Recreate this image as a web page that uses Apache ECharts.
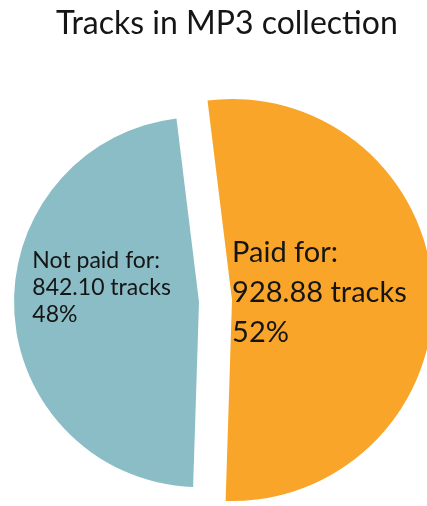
<!DOCTYPE html>
<html>
<head>
<meta charset="utf-8">
<script src="https://cdn.jsdelivr.net/npm/echarts@6/dist/echarts.min.js"></script>
<style>
  html, body { margin: 0; padding: 0; background: #ffffff; }
  #chart { width: 427px; height: 506px; }
</style>
</head>
<body>
<div id="chart"></div>
<script>
// Track counts by purchase status
const categories = ['Paid for', 'Not paid for'];
const tracks = [928.88, 842.10];
const sliceColors = ['#F9A52A', '#8BBDC6'];
const chartTitle = 'Tracks in MP3 collection';

// Each slice is drawn by its own pie series (the other slice kept invisible),
// so the two pieces can be pulled apart and sized independently.
function pieSeries(showIndex, center, radius, fontSize, lineHeight, shift) {
  return {
    type: 'pie',
    center: center,
    radius: radius,
    startAngle: 97,
    clockwise: true,
    silent: true,
    animation: false,
    labelLine: { show: false },
    data: categories.map((name, i) => ({
      name: name,
      value: tracks[i],
      itemStyle: { color: i === showIndex ? sliceColors[i] : 'rgba(0,0,0,0)', borderWidth: 0 },
      label: {
        show: i === showIndex,
        position: 'inside',
        formatter: p => p.name + ':\n' + p.value.toFixed(2) + ' tracks\n' + Math.round(p.percent) + '%',
        fontFamily: 'Lato',
        fontSize: fontSize,
        lineHeight: lineHeight,
        color: '#151515'
      }
    })),
    // left-align the label lines, nudged from the slice's default label spot
    labelLayout: p => ({
      x: p.labelRect.x + shift[0],
      y: p.labelRect.y + shift[1],
      align: 'left',
      verticalAlign: 'top'
    })
  };
}

const chart = echarts.init(document.getElementById('chart'), null, { renderer: 'canvas' });
chart.setOption({
  backgroundColor: '#ffffff',
  title: {
    text: chartTitle,
    left: 51,
    top: 3,
    textStyle: { fontFamily: 'Lato', fontSize: 32, fontWeight: 'normal', color: '#151515' }
  },
  series: [
    pieSeries(0, [232, 300], 201, 29, 40, [-16, -3]),
    pieSeries(1, [199, 302], 185, 23, 27, [-2, -19])
  ]
});
</script>
</body>
</html>
